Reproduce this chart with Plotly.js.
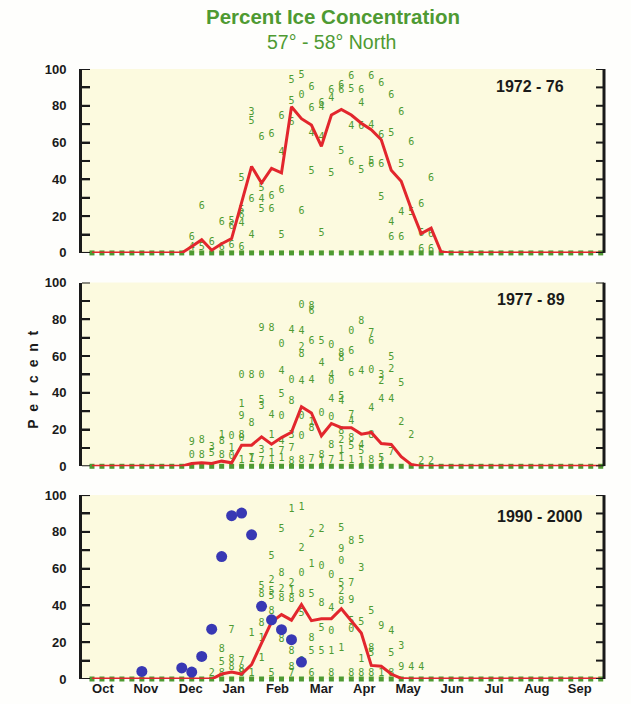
<!DOCTYPE html>
<html>
<head>
<meta charset="utf-8">
<script src="https://cdn.plot.ly/plotly-3.0.1.min.js"></script>
<style>html,body{margin:0;padding:0;background:#fefefc;overflow:hidden;}#chart{width:631px;height:704px;}</style>
</head>
<body>
<div id="chart"></div>
<script>
// ---- data ----
const monthLabels = ["Oct","Nov","Dec","Jan","Feb","Mar","Apr","May","Jun","Jul","Aug","Sep"];
const monthWeek = [2.1, 6.4, 10.9, 15.2, 19.6, 24.0, 28.3, 32.7, 37.1, 41.3, 45.6, 49.9];
const yTickVals = [0,10,20,30,40,50,60,70,80,90,100];
const yTickText = ["0","","20","","40","","60","","80","","100"];

const weeks = [1,2,3,4,5,6,7,8,9,10,11,12,13,14,15,16,17,18,19,20,21,22,23,24,25,26,27,28,29,30,31,32,33,34,35,36,37,38,39,40,41,42,43,44,45,46,47,48,49,50,51,52];
const zeroWeeksTop = [1,2,3,4,5,6,7,8,9,10,11,12,13,14,15,16,17,18,19,20,21,22,23,24,25,26,27,28,29,30,31,32,33,34,35,36,37,38,39,40,41,42,43,44,45,46,47,48,49,50,51,52];
const zeroWeeksMid = [1,2,3,4,5,6,7,8,9,10,11,12,13,14,15,16,17,18,19,20,21,22,23,24,25,26,27,28,29,30,31,32,33,34,35,36,37,38,39,40,41,42,43,44,45,46,47,48,49,50,51,52];
const zeroWeeksBot = [1,2,3,4,5,6,7,8,9,10,11,12,13,14,15,16,17,18,19,20,21,22,23,24,25,26,27,28,29,30,31,32,33,34,35,36,37,38,39,40,41,42,43,44,45,46,47,48,49,50,51,52];

const meanTop = [0,0,0,0,0,0,0,0,0,0,3.5,7.2,1.5,5,7.8,27,47,38,46,43.5,79.5,73,69.5,58,75,78,75,70.5,67,61.5,45,39,24,10.5,13.5,0.5,0,0,0,0,0,0,0,0,0,0,0,0,0,0,0,0];
const meanMid = [0,0,0,0,0,0,0,0,0,0,1.5,1.9,1.5,2.8,1.9,11.5,11.5,16,12,15.6,18.5,32.4,29,16.6,23.3,21,21,17.5,18.4,12.4,11.9,5.2,1,0,0,0,0,0,0,0,0,0,0,0,0,0,0,0,0,0,0,0];
const meanBot = [0,0,0,0,0,0,0,0,0,0,0,0,0,2.7,3.8,2.7,7.8,19.5,31,35,32,40.5,31.7,32.8,32.8,38.2,31.3,25,7.4,6.9,2.7,0.3,0,0,0,0,0,0,0,0,0,0,0,0,0,0,0,0,0,0,0,0];

const blueWeek = [6,10,11,12,13,14,15,16,17,18,19,20,21,22];
const blueVal = [4.1,6,3.8,12.3,27.1,66.6,88.8,90.2,78.4,39.5,32.2,26.8,21.4,9.2];

const topDigWk  = [11,12,13,14,15,15,16,16,16,16,17,17,17,17,18,18,18,18,19,19,19,20,20,20,20,21,21,21,22,22,22,23,23,23,23,24,24,24,24,25,25,25,26,26,26,27,27,27,27,28,28,28,28,29,29,29,29,30,30,30,30,31,31,31,31,32,32,32,32,33,33,34,34,35,35,11,12,14,15,16,34,35];
const topDigVal = [8.3,25.5,5.4,16.8,17.2,14.5,23.2,20.4,16,40.4,76.6,71.6,29,9.6,63,35,29,23.5,64.5,30.5,23.5,74,54.8,33.7,9.6,93.8,82.4,71,96.5,85.5,22.3,89.7,78.4,64.8,44.4,81,79,62.5,10.5,88.4,84.2,43,90.8,88.4,55,95.7,89,68.5,49,88.4,81.2,68.5,45,95.7,69.4,49.8,48,92,63.6,48,29.9,85.5,64.9,16.8,8.6,76.6,48,22,8.6,59.9,22,26.3,10.5,40.7,10,3,3,3,4,3,2,2];
const topDigTxt = ["6","6","6","6","5","6","5","6","4","5","3","5","6","4","6","5","4","5","6","6","6","6","4","6","5","5","5","6","5","0","6","6","6","4","5","6","4","4","5","6","4","5","6","6","5","6","5","4","6","6","4","6","5","6","4","5","6","6","6","6","5","6","5","4","6","6","5","4","6","6","5","6","6","6","6","4","5","6","6","6","6","6"];

const midDigWk  = [11,11,12,12,13,13,14,14,14,15,15,15,16,16,16,16,16,17,17,17,18,18,18,18,18,19,19,19,19,20,20,20,20,20,20,21,21,21,21,21,22,22,22,22,22,22,22,23,23,23,23,23,23,24,24,24,24,25,25,25,25,25,25,26,26,26,26,26,26,26,27,27,27,27,27,27,27,28,28,28,28,29,29,29,29,29,30,30,30,30,31,31,31,31,32,32,33,34,35,16,17,18,19,20,21,22,23,24,25,26,27,28,29,30];
const midDigVal = [12.8,6,14.2,6,10,6.8,16.6,13.3,6,16,9.7,5.2,49.2,33.6,26.9,16.6,15.1,49.2,23.2,4.3,49.2,35.9,32.3,8.4,74.9,74.9,27.6,16.6,7,66.2,51.7,39,27.3,13.6,8.2,73.7,46.8,35.4,16.6,9.7,87.6,73.3,64.6,60.9,46.4,26.9,16,86.7,84,68,46.8,24.1,20.5,68,55.9,28.7,6,65.9,49.6,46,36.1,26.3,11.5,61.3,58.6,37.9,35.2,19,14.3,8.4,73.3,62.4,50.5,27.7,24.4,15,10.6,78.7,51.4,11.5,8,72.2,67.7,52.3,31.4,16.7,49.6,46,36.5,4.3,59,52.8,36.5,7.5,45.1,24.1,16.6,2.4,2.4,3,3.5,2.5,3,4,2.5,3,3.5,2.5,3,4,3,2.5,3,2.5];
const midDigTxt = ["9","0","8","8","3","5","1","8","8","0","1","0","0","1","9","8","0","8","8","7","0","5","3","3","9","8","4","1","1","0","4","5","0","4","7","4","0","8","3","7","0","4","2","8","4","0","0","8","6","6","4","1","8","5","4","0","8","0","4","0","4","0","8","8","8","5","4","8","2","1","0","6","6","7","4","8","5","8","4","4","5","7","6","0","4","8","3","2","4","5","5","2","4","7","5","2","2","2","2","1","1","7","1","1","8","8","7","1","7","1","1","1","8","1"];

const botDigWk  = [14,14,15,15,15,16,16,17,18,18,18,18,18,18,19,19,19,19,19,20,20,20,20,20,20,21,21,21,21,21,21,22,22,22,22,22,22,23,23,23,23,23,24,24,24,24,24,25,25,25,25,26,26,26,26,26,26,26,27,27,27,27,27,28,28,28,28,29,29,29,30,31,31,32,32,33,34,13,14,16,17,19,21,23,25,27,28,29,30,31];
const botDigVal = [16,9.1,10.6,6,26.3,9.6,5.1,24.9,50.4,45.8,39.5,30.4,21.9,11.4,66.6,53.4,47.6,44.8,36.7,81.1,57.6,48.5,44,25.9,21.3,92,52.1,47.6,43.1,15,6,93,71.2,57.6,45.8,35.8,9.6,78.4,62.1,45.8,22.2,15,81.1,61.2,41.3,27.7,15,56.5,38.5,25.9,15,82,70.3,63.9,52.1,47.6,42.2,16.4,74.8,52.1,42.5,31.3,26.8,75.1,60.3,30.9,10.4,36.8,16.4,13.6,28.6,25.9,13.6,17.7,6,6,6,3,3,3,3,3,3,3,3,3,3,3,3,3];
const botDigTxt = ["8","5","8","8","7","7","8","1","5","8","8","8","1","1","5","2","5","5","8","5","8","2","8","8","8","1","2","1","8","8","8","1","2","0","8","5","0","2","1","5","8","5","2","0","8","5","5","0","4","0","1","5","9","0","5","2","8","1","8","7","9","5","0","5","3","5","1","5","8","5","9","4","5","3","9","4","4","2","8","8","1","5","7","6","8","8","8","8","1","8"];

// ---- styles ----
const GREEN = '#4e9a32';
const RED = '#e2262d';
const BLUE = '#3838b4';
const BG = '#fcfadf';
const AXIS = '#1a1a1a';
const FONT = 'Arial, "Liberation Sans", sans-serif';
const tickFont = {family: FONT, size: 13, color: AXIS, weight: 700};

function panel(n, mean, dwk, dval, dtxt, zw) {
  const xa = n === 1 ? 'x' : 'x' + n;
  const ya = n === 1 ? 'y' : 'y' + n;
  const zeros = zw.map(() => 0);
  return [
    {x: zw, y: zeros, xaxis: xa, yaxis: ya, mode: 'markers', type: 'scatter', cliponaxis: false,
     marker: {symbol: 'square', size: 5, color: GREEN}, hoverinfo: 'skip', showlegend: false},
    {x: dwk, y: dval, text: dtxt, xaxis: xa, yaxis: ya, mode: 'text', type: 'scatter', cliponaxis: false,
     textfont: {family: '"DejaVu Sans Mono", monospace', size: 10, color: GREEN}, hoverinfo: 'skip', showlegend: false},
    {x: weeks, y: mean, xaxis: xa, yaxis: ya, mode: 'lines', type: 'scatter', cliponaxis: false,
     line: {color: RED, width: 3}, hoverinfo: 'skip', showlegend: false}
  ];
}

const data = [].concat(
  panel(1, meanTop, topDigWk, topDigVal, topDigTxt, zeroWeeksTop),
  panel(2, meanMid, midDigWk, midDigVal, midDigTxt, zeroWeeksMid),
  panel(3, meanBot, botDigWk, botDigVal, botDigTxt, zeroWeeksBot),
  [{x: blueWeek, y: blueVal, xaxis: 'x3', yaxis: 'y3', mode: 'markers', type: 'scatter', cliponaxis: false,
    marker: {size: 11, color: BLUE}, hoverinfo: 'skip', showlegend: false}]
);

function yax(dom, anchor) {
  return {domain: dom, anchor: anchor, range: [0, 100], showgrid: false, zeroline: false,
    showline: true, linecolor: AXIS, linewidth: 3,
    ticks: 'inside', ticklen: 8, tickwidth: 2, tickcolor: AXIS,
    tickvals: yTickVals, ticktext: yTickText,
    tickfont: tickFont, ticklabelstandoff: 10, fixedrange: true};
}
function xax(anchor, labels) {
  return {anchor: anchor, range: [0, 52.33], showgrid: false, zeroline: false, showline: false,
    ticks: '', tickvals: monthWeek, ticktext: monthLabels, showticklabels: labels,
    tickfont: tickFont, fixedrange: true};
}

// axis frame decorations (right-hand axis line and inside ticks on both sides), tied to each y axis
const TICK = 8 / 522;
const shapes = [];
['y', 'y2', 'y3'].forEach(function (yr) {
  shapes.push({type: 'line', layer: 'above', xref: 'paper', yref: yr, x0: 1, x1: 1, y0: 0, y1: 100,
               line: {color: AXIS, width: 3}});
  yTickVals.forEach(function (v) {
    shapes.push({type: 'line', layer: 'above', xref: 'paper', yref: yr, x0: 1, x1: 1 - TICK, y0: v, y1: v,
                 line: {color: AXIS, width: 2}});
    shapes.push({type: 'line', layer: 'above', xref: 'paper', yref: yr, x0: 0, x1: TICK, y0: v, y1: v,
                 line: {color: AXIS, width: 2}});
  });
});

const panelLabelFont = {family: FONT, size: 16, color: AXIS, weight: 700};
const layout = {
  width: 631, height: 704,
  margin: {l: 82, r: 27, t: 69, b: 25},
  paper_bgcolor: '#fefefc', plot_bgcolor: BG, showlegend: false,
  xaxis: xax('y', false), yaxis: yax([0.6985, 1], 'x'),
  xaxis2: xax('y2', false), yaxis2: yax([0.3487, 0.650], 'x2'),
  xaxis3: xax('y3', true), yaxis3: yax([0, 0.3015], 'x3'),
  shapes: shapes,
  annotations: [
    {text: 'Percent Ice Concentration', xref: 'paper', yref: 'paper', x: (333-82)/522, y: (679.3-16)/610.3, yanchor: 'middle', showarrow: false,
     font: {family: FONT, size: 20.5, color: GREEN, weight: 700}},
    {text: '57° - 58° North', xref: 'paper', yref: 'paper', x: (331-82)/522, y: (679.3-42)/610.3, yanchor: 'middle', showarrow: false,
     font: {family: FONT, size: 19.5, color: GREEN}},
    {text: '1972 - 76', xref: 'paper', yref: 'paper', x: (566-82)/522, xanchor: 'right', y: (679.3-87)/610.3, yanchor: 'middle', showarrow: false,
     font: panelLabelFont},
    {text: '1977 - 89', xref: 'paper', yref: 'paper', x: (567-82)/522, xanchor: 'right', y: (679.3-300)/610.3, yanchor: 'middle', showarrow: false,
     font: panelLabelFont},
    {text: '1990 - 2000', xref: 'paper', yref: 'paper', x: (585-82)/522, xanchor: 'right', y: (679.3-517)/610.3, yanchor: 'middle', showarrow: false,
     font: panelLabelFont},
    {text: 'P\u00a0\u00a0e\u00a0\u00a0r\u00a0\u00a0c\u00a0\u00a0e\u00a0\u00a0n\u00a0\u00a0t', xref: 'paper', yref: 'paper', x: (23-82)/522, y: (679.3-380)/610.3,
     textangle: -90, showarrow: false, yanchor: 'middle',
     font: {family: FONT, size: 14, color: AXIS, weight: 700}}
  ]
};

Plotly.newPlot('chart', data, layout, {staticPlot: true, displayModeBar: false});
</script>
</body>
</html>
